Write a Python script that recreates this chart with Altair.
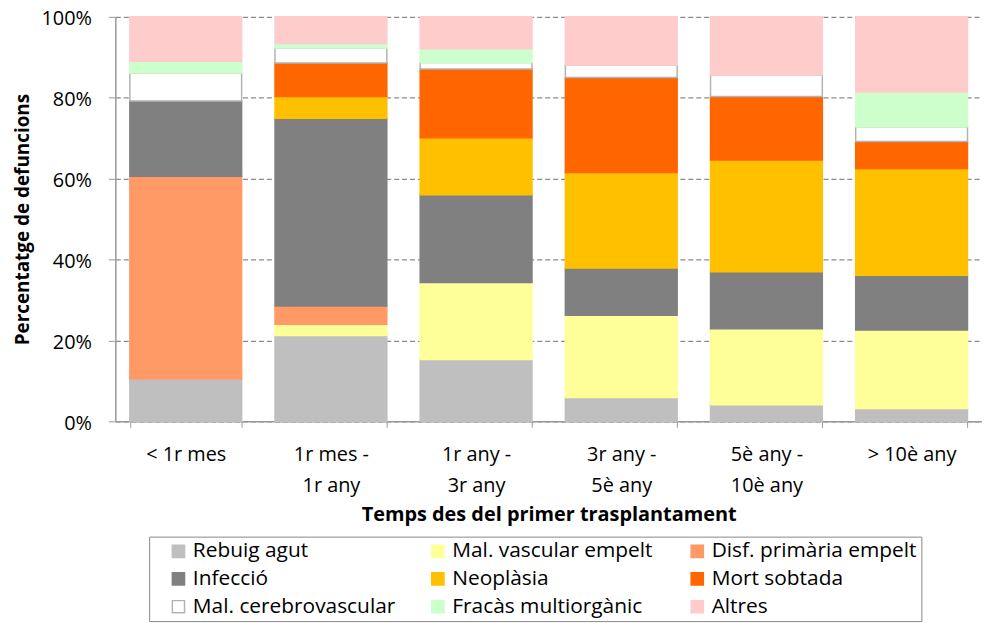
import altair as alt
import pandas as pd

categories = ["< 1r mes", "1r mes -|1r any", "1r any -|3r any", "3r any  -|5è any", "5è any -|10è any", "> 10è any"]
causes = ["Rebuig agut", "Mal. vascular empelt", "Disf. primària empelt", "Infecció", "Neoplàsia",
          "Mort sobtada", "Mal. cerebrovascular", "Fracàs multiorgànic", "Altres"]
fills = ["#BFBFBF", "#FFFF99", "#FF9966", "#808080", "#FFC000", "#FF6600", "#FFFFFF", "#CCFFCC", "#FFCCCC"]
strokes = ["#BFBFBF", "#FFFF99", "#FF9966", "#808080", "#FFC000", "#FF6600", "#B3B3B3", "#CCFFCC", "#FFCCCC"]

rebuig = [10.5, 21.2, 15.3, 5.9, 4.1, 3.2]
mal_vascular = [0, 2.8, 19.0, 20.3, 18.8, 19.4]
disf_primaria = [50.1, 4.5, 0, 0, 0, 0]
infeccio = [18.6, 46.4, 21.7, 11.7, 14.1, 13.5]
neoplasia = [0, 5.4, 14.1, 23.6, 27.6, 26.4]
mort_sobtada = [0, 8.3, 17.0, 23.5, 15.7, 6.7]
cerebrovascular = [6.9, 3.7, 1.6, 3.1, 5.3, 3.6]
fracas = [2.9, 1.1, 3.4, 0, 0, 8.6]
altres = [11.0, 6.6, 7.9, 11.9, 14.4, 18.6]

series = [rebuig, mal_vascular, disf_primaria, infeccio, neoplasia, mort_sobtada, cerebrovascular, fracas, altres]

rows = []
for i, (cause, vals) in enumerate(zip(causes, series)):
    for cat, v in zip(categories, vals):
        if v > 0:
            rows.append({"cat": cat, "cause": cause, "value": v, "order": i})
df = pd.DataFrame(rows)

# legend fills column by column: reorder so it reads row by row like the reference
leg_idx = [0, 3, 6, 1, 4, 7, 2, 5, 8]
leg_domain = [causes[k] for k in leg_idx]
leg_fills = [fills[k] for k in leg_idx]
leg_strokes = [strokes[k] for k in leg_idx]

FONT = "Open Sans"

chart = alt.Chart(df).mark_bar(strokeWidth=1.5).encode(
    x=alt.X("cat:N", sort=categories,
            scale=alt.Scale(paddingInner=0.23, paddingOuter=0.1),
            axis=alt.Axis(title="Temps des del primer trasplantament", labelAngle=0,
                          labelExpr="split(datum.label, '|')", labelLineHeight=32,
                          labelFontSize=20, labelPadding=17, labelBaseline="top",
                          tickBand="extent", tickSize=6, tickColor="#999999",
                          domainColor="#999999", domainWidth=1.5,
                          titleFontSize=20, titleFontWeight="bold", titlePadding=9,
                          labelColor="#000000", titleColor="#000000")),
    y=alt.Y("value:Q", stack="zero",
            scale=alt.Scale(domain=[0, 100], nice=False),
            axis=alt.Axis(title="Percentatge de defuncions", values=[0, 20, 40, 60, 80, 100],
                          labelExpr="datum.value + '%'", labelFontSize=20, labelPadding=17,
                          labelOffset=2,
                          tickSize=7, tickColor="#999999", domainColor="#999999", domainWidth=1.5,
                          grid=True, gridDash=[5, 3], gridColor="#8C8C8C", gridWidth=1.2,
                          titleFontSize=19, titleFontWeight="bold", titlePadding=9,
                          labelColor="#000000", titleColor="#000000")),
    color=alt.Color("cause:N",
                    scale=alt.Scale(domain=leg_domain, range=leg_fills),
                    legend=alt.Legend(title=None, orient="none", legendX=34, legendY=523,
                                      columns=3, columnPadding=14, rowPadding=6,
                                      symbolType="square", symbolSize=150, symbolStrokeWidth=1.5,
                                      symbolOffset=15,
                                      labelFontSize=21, labelColor="#000000", gridAlign="all",
                                      labelLimit=400,
                                      strokeColor="#888888", padding=4, fillColor="#FFFFFF",
                                      labelOffset=4)),
    stroke=alt.Stroke("cause:N",
                      scale=alt.Scale(domain=leg_domain, range=leg_strokes)),
    order=alt.Order("order:Q", sort="ascending"),
).properties(
    width=872, height=407,
    autosize=alt.AutoSizeParams(type="none"),
    padding={"left": 108, "top": 7, "right": 0, "bottom": 202},
).configure(font=FONT).configure_view(stroke=None).configure_axis(grid=False)

chart.save("out.html", embed_options={"renderer": "svg", "actions": False})
